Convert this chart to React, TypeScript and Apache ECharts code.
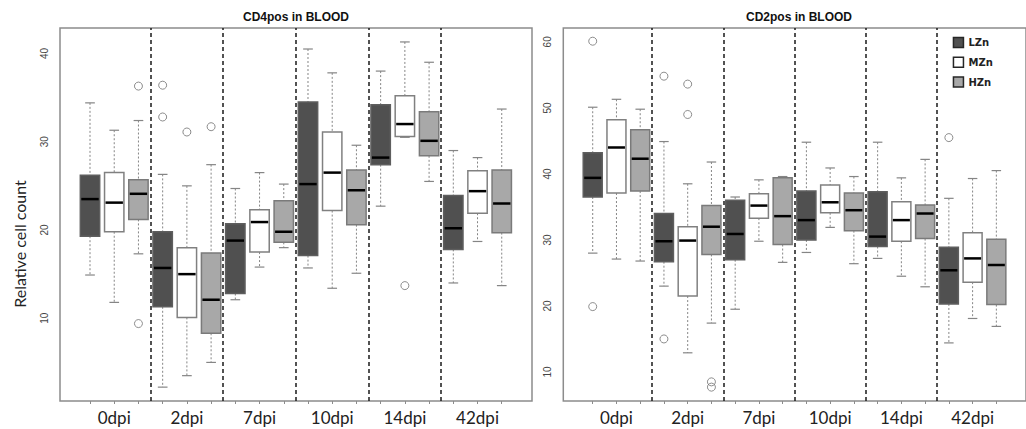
import React, { useEffect, useRef } from "react";
import * as echarts from "echarts";

// ---------- data ----------
const groups = ["0dpi", "2dpi", "7dpi", "10dpi", "14dpi", "42dpi"];
const doses = ["LZn", "MZn", "HZn"];

// five-number summaries per group: [min, Q1, median, Q3, max]
const cd4LZn = [
  [14.9, 19.3, 23.5, 26.2, 34.4],
  [2.2, 11.3, 15.7, 19.8, 26.3],
  [12.1, 12.8, 18.8, 20.7, 24.7],
  [15.7, 17.1, 25.2, 34.5, 40.5],
  [22.7, 27.4, 28.2, 34.2, 38.0],
  [14.0, 17.8, 20.2, 23.9, 29.0],
];
const cd4MZn = [
  [11.8, 19.8, 23.1, 26.5, 31.3],
  [3.5, 10.1, 15.0, 18.0, 25.0],
  [15.8, 17.5, 20.9, 22.3, 26.5],
  [13.4, 22.2, 26.5, 31.1, 37.8],
  [30.5, 30.6, 32.0, 35.2, 41.3],
  [18.7, 21.9, 24.4, 26.7, 28.2],
];
const cd4HZn = [
  [17.3, 21.2, 24.1, 25.7, 32.4],
  [5.0, 8.3, 12.1, 17.4, 27.4],
  [18.0, 18.6, 19.8, 23.3, 25.2],
  [15.1, 20.6, 24.5, 26.8, 29.6],
  [25.5, 28.4, 30.1, 33.4, 39.0],
  [13.7, 19.7, 23.0, 26.8, 33.7],
];
// outliers: [group index, dose index, value]
const cd4Outliers = [
  [0, 2, 36.3],
  [0, 2, 9.4],
  [1, 0, 36.4],
  [1, 0, 32.8],
  [1, 1, 31.1],
  [1, 2, 31.7],
  [4, 1, 13.7],
];

const cd2LZn = [
  [28.0, 36.5, 39.4, 43.2, 50.1],
  [23.0, 26.7, 29.8, 34.0, 44.9],
  [19.5, 27.0, 30.9, 36.0, 36.5],
  [28.1, 30.0, 33.0, 37.4, 44.8],
  [27.2, 29.0, 30.5, 37.3, 44.8],
  [14.4, 20.3, 25.4, 28.9, 36.3],
];
const cd2MZn = [
  [27.1, 37.1, 44.0, 48.2, 51.3],
  [12.9, 21.5, 29.9, 32.0, 38.5],
  [29.8, 33.3, 35.2, 37.0, 39.1],
  [31.9, 34.1, 35.7, 38.3, 40.9],
  [24.5, 29.8, 33.0, 35.8, 39.4],
  [18.1, 23.6, 27.2, 31.1, 39.3],
];
const cd2HZn = [
  [26.8, 37.4, 42.3, 46.7, 49.8],
  [17.4, 27.8, 32.0, 35.2, 41.8],
  [26.6, 29.3, 33.6, 39.4, 39.6],
  [26.4, 31.4, 34.5, 37.1, 39.6],
  [22.9, 30.2, 34.0, 35.3, 42.2],
  [16.9, 20.2, 26.2, 30.1, 40.5],
];
const cd2Outliers = [
  [0, 0, 60.1],
  [0, 0, 19.9],
  [1, 0, 54.8],
  [1, 0, 15.0],
  [1, 1, 53.6],
  [1, 1, 49.0],
  [1, 2, 8.5],
  [1, 2, 7.7],
  [5, 0, 45.5],
];

const cd4Ticks = [10, 20, 30, 40];
const cd2Ticks = [10, 20, 30, 40, 50, 60];
const cd4Range = [0.63, 42.88];
const cd2Range = [5.6, 62.1];
const titles = ["CD4pos in BLOOD", "CD2pos in BLOOD"];
const yTitle = "Relative cell count";

// ---------- styles ----------
const doseFill = ["#505050", "#ffffff", "#a8a8a8"];
const doseStroke = ["#5e5e5e", "#808080", "#7a7a7a"];
const legendStroke = "#262626";

const pos = (g: number, d: number) => g * 3 + d + 1;
const X_MIN = -0.239;
const X_MAX = 19.249;
const boxPositions = Array.from({ length: 18 }, (_, i) => i + 1);
const labelPositions = groups.map((_, g) => pos(g, 1));
const dividers = [3.5, 6.5, 9.5, 12.5, 15.5];

function makeRenderItem(fill: string, stroke: string) {
  return (_params: any, api: any) => {
    const x = api.value(0);
    const pMin = api.coord([x, api.value(1)]);
    const pQ1 = api.coord([x, api.value(2)]);
    const pMed = api.coord([x, api.value(3)]);
    const pQ3 = api.coord([x, api.value(4)]);
    const pMax = api.coord([x, api.value(5)]);
    const w = api.size([0.8, 0])[0];
    const cx = pMed[0];
    const cap = w / 4;
    const whisker = { stroke: "#858585", lineWidth: 1, lineDash: [2, 2] };
    const capStyle = { stroke: "#858585", lineWidth: 1.2 };
    return {
      type: "group",
      children: [
        { type: "line", shape: { x1: cx, y1: pMax[1], x2: cx, y2: pQ3[1] }, style: whisker },
        { type: "line", shape: { x1: cx, y1: pQ1[1], x2: cx, y2: pMin[1] }, style: whisker },
        { type: "line", shape: { x1: cx - cap, y1: pMax[1], x2: cx + cap, y2: pMax[1] }, style: capStyle },
        { type: "line", shape: { x1: cx - cap, y1: pMin[1], x2: cx + cap, y2: pMin[1] }, style: capStyle },
        {
          type: "rect",
          shape: { x: cx - w / 2, y: pQ3[1], width: w, height: pQ1[1] - pQ3[1] },
          style: { fill, stroke, lineWidth: 1.5 },
        },
        {
          type: "line",
          shape: { x1: cx - w / 2 + 1, y1: pMed[1], x2: cx + w / 2 - 1, y2: pMed[1] },
          style: { stroke: "#000", lineWidth: 2.5 },
        },
      ],
    };
  };
}

export default function App() {
  const ref = useRef<HTMLDivElement>(null);
  useEffect(() => {
    if (!ref.current) return;
    const chart = echarts.init(ref.current, undefined, { renderer: "svg" });

    const panels = [
      { stats: [cd4LZn, cd4MZn, cd4HZn], outliers: cd4Outliers, ticks: cd4Ticks, range: cd4Range },
      { stats: [cd2LZn, cd2MZn, cd2HZn], outliers: cd2Outliers, ticks: cd2Ticks, range: cd2Range },
    ];
    const gridLefts = [60, 563.3];

    const series: any[] = [];
    panels.forEach((p, pi) => {
      p.stats.forEach((stats, d) => {
        series.push({
          type: "custom",
          name: doses[d],
          xAxisIndex: pi,
          yAxisIndex: pi,
          renderItem: makeRenderItem(doseFill[d], doseStroke[d]),
          encode: { x: 0, y: [1, 2, 3, 4, 5] },
          itemStyle: { color: doseFill[d], borderColor: legendStroke, borderWidth: 1.5 },
          data: stats.map((s, g) => [pos(g, d), ...s]),
          z: 3,
        });
      });
      series.push({
        type: "scatter",
        name: "outliers-" + pi,
        xAxisIndex: pi,
        yAxisIndex: pi,
        symbol: "circle",
        symbolSize: 8,
        itemStyle: { color: "rgba(255,255,255,0)", borderColor: "#707070", borderWidth: 1 },
        data: p.outliers.map(([g, d, v]) => [pos(g, d), v]),
        z: 4,
        markLine: {
          silent: true,
          symbol: "none",
          label: { show: false },
          lineStyle: { type: [4, 3], color: "#1a1a1a", width: 1.5 },
          data: dividers.map((v) => ({ xAxis: v })),
          z: 2,
        },
      });
    });

    chart.setOption({
      animation: false,
      backgroundColor: "#ffffff",
      textStyle: { fontFamily: "Liberation Sans" },
      grid: gridLefts.map((l) => ({
        left: l,
        top: 28,
        width: 472,
        height: 373,
        show: true,
        borderColor: "#8c8c8c",
        borderWidth: 1.5,
        containLabel: false,
      })),
      xAxis: panels.map((_, pi) => ({
        type: "value",
        gridIndex: pi,
        min: X_MIN,
        max: X_MAX,
        axisLine: { show: false },
        splitLine: { show: false },
        axisTick: {
          show: true,
          customValues: boxPositions,
          length: 3,
          lineStyle: { color: "#8c8c8c" },
        },
        axisLabel: {
          customValues: labelPositions,
          formatter: (v: number) => groups[Math.round((v - 2) / 3)],
          fontSize: 17,
          fontFamily: "Lato",
          color: "#222",
          margin: 8,
        },
      })),
      yAxis: panels.map((p, pi) => ({
        type: "value",
        gridIndex: pi,
        min: p.range[0],
        max: p.range[1],
        axisLine: { show: false },
        axisTick: { show: false },
        splitLine: { show: false },
        axisLabel: {
          customValues: p.ticks,
          rotate: 90,
          fontSize: 10,
          color: "#444",
          margin: 11,
        },
      })),
      legend: {
        orient: "vertical",
        left: 952.7,
        top: 36.7,
        padding: 0,
        itemWidth: 10,
        itemHeight: 10,
        itemGap: 8.3,
        icon: "rect",
        textStyle: { fontSize: 10, fontWeight: "bold", color: "#222", fontFamily: "DejaVu Sans" },
        data: doses.map((name, d) => ({
          name,
          itemStyle: { color: doseFill[d], borderColor: legendStroke, borderWidth: 1.5 },
        })),
      },
      graphic: [
        {
          type: "text",
          x: 296,
          y: 17,
          style: {
            text: titles[0],
            fontSize: 12,
            fontWeight: "bold",
            fontFamily: "Liberation Sans",
            fill: "#111",
            align: "center",
            verticalAlign: "middle",
          },
        },
        {
          type: "text",
          x: 799,
          y: 17,
          style: {
            text: titles[1],
            fontSize: 12,
            fontWeight: "bold",
            fontFamily: "Liberation Sans",
            fill: "#111",
            align: "center",
            verticalAlign: "middle",
          },
        },
        {
          type: "text",
          x: 19,
          y: 244,
          rotation: Math.PI / 2,
          style: {
            text: yTitle,
            fontSize: 16,
            fontFamily: "Lato",
            fill: "#222",
            align: "center",
            verticalAlign: "middle",
          },
        },
      ],
      series,
    });
    return () => chart.dispose();
  }, []);
  return (
    <div
      ref={ref}
      style={{ position: "absolute", left: 0, top: 0, width: 1026, height: 429 }}
    />
  );
}
